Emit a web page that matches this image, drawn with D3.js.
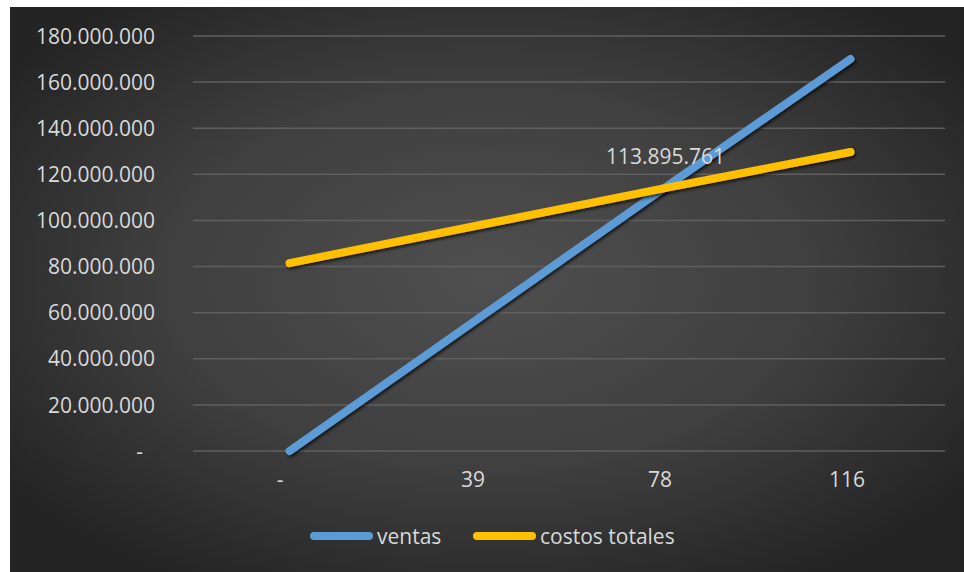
<!DOCTYPE html>
<html>
<head>
<meta charset="utf-8">
<script src="https://cdn.jsdelivr.net/npm/d3@7"></script>
<style>
  html, body { margin: 0; padding: 0; background: #ffffff; }
  svg { display: block; }
  text { font-family: "Open Sans", "Noto Sans", sans-serif; }
</style>
</head>
<body>
<svg id="chart" width="964" height="572"></svg>
<script>
// Break-even chart: sales vs. total costs by units sold
const categories = ["-", "39", "78", "116"];
const ventas = [0, 56900000, 113895761, 170000000];
const costosTotales = [81500000, 97700000, 113895761, 129700000];
const yTicks = [0, 20000000, 40000000, 60000000, 80000000, 100000000, 120000000, 140000000, 160000000, 180000000];
const seriesNames = ["ventas", "costos totales"];
const seriesColors = ["#5b9bd5", "#ffc000"];
const labelIndex = 2; // data label shown on the break-even point

const svg = d3.select("#chart");
const W = 964, H = 572;

// chart frame with dark radial background
const defs = svg.append("defs");
const grad = defs.append("radialGradient")
  .attr("id", "bg").attr("cx", "50%").attr("cy", "48%").attr("r", "62%");
grad.append("stop").attr("offset", "0%").attr("stop-color", "#4f4f4f");
grad.append("stop").attr("offset", "55%").attr("stop-color", "#3f3f3f");
grad.append("stop").attr("offset", "100%").attr("stop-color", "#242424");

const shadow = defs.append("filter").attr("id", "shadow")
  .attr("x", "-10%").attr("y", "-10%").attr("width", "120%").attr("height", "120%");
shadow.append("feDropShadow").attr("dx", 1.5).attr("dy", 2).attr("stdDeviation", 1.6)
  .attr("flood-color", "#000").attr("flood-opacity", 0.7);

svg.append("rect").attr("x", 10).attr("y", 7).attr("width", W - 10).attr("height", H - 7)
  .attr("fill", "url(#bg)");

const plot = { left: 193, right: 945, top: 36, bottom: 451 };

const x = d3.scalePoint().domain(categories).range([196, 944]).padding(0.5);
const y = d3.scaleLinear().domain([0, 180000000]).range([plot.bottom, plot.top]);

const fmt = v => v === 0 ? "-" : d3.format(",")(v).replace(/,/g, ".");

// horizontal gridlines
svg.append("g").selectAll("line").data(yTicks).join("line")
  .attr("x1", plot.left).attr("x2", plot.right)
  .attr("y1", d => y(d)).attr("y2", d => y(d))
  .attr("stroke", "#5f5f5f").attr("stroke-width", 1.5);

// y axis
const yAxis = svg.append("g").attr("transform", `translate(${plot.left - 38},0)`)
  .call(d3.axisLeft(y).tickValues(yTicks).tickFormat(fmt).tickSize(0).tickPadding(0));
yAxis.select(".domain").remove();
yAxis.selectAll("text")
  .attr("fill", "#d9d9d9").attr("font-size", 21)
  .attr("dx", d => d === 0 ? -12 : 0)
  .attr("dy", "0.34em");

// x axis
const xAxis = svg.append("g").attr("transform", `translate(0,${plot.bottom + 21})`)
  .call(d3.axisBottom(x).tickSize(0).tickPadding(0));
xAxis.select(".domain").remove();
xAxis.selectAll("text")
  .attr("fill", "#d9d9d9").attr("font-size", 21)
  .attr("dx", d => d === "-" ? -10 : -4)
  .attr("dy", "0.71em");

// series lines
const line = d3.line().x((d, i) => x(categories[i])).y(d => y(d));
const series = [ventas, costosTotales];
svg.append("g").selectAll("path").data(series).join("path")
  .attr("d", d => line(d))
  .attr("fill", "none")
  .attr("stroke", (d, i) => seriesColors[i])
  .attr("stroke-width", 8)
  .attr("stroke-linecap", "round")
  .attr("stroke-linejoin", "round")
  .attr("filter", "url(#shadow)");

// data label on the break-even point
svg.append("text")
  .attr("x", x(categories[labelIndex]) + 2)
  .attr("y", y(costosTotales[labelIndex]) - 24)
  .attr("text-anchor", "middle")
  .attr("fill", "#d9d9d9").attr("font-size", 21)
  .text(fmt(costosTotales[labelIndex]));

// legend
const legendItems = [
  { x: 314, w: 55 },
  { x: 477, w: 55 }
];
const lg = svg.append("g");
seriesNames.forEach((name, i) => {
  const it = legendItems[i];
  lg.append("line")
    .attr("x1", it.x).attr("x2", it.x + it.w)
    .attr("y1", 536).attr("y2", 536)
    .attr("stroke", seriesColors[i]).attr("stroke-width", 8)
    .attr("stroke-linecap", "round");
  lg.append("text")
    .attr("x", it.x + it.w + 8).attr("y", 544)
    .attr("fill", "#d9d9d9").attr("font-size", 21)
    .text(name);
});
</script>
</body>
</html>
